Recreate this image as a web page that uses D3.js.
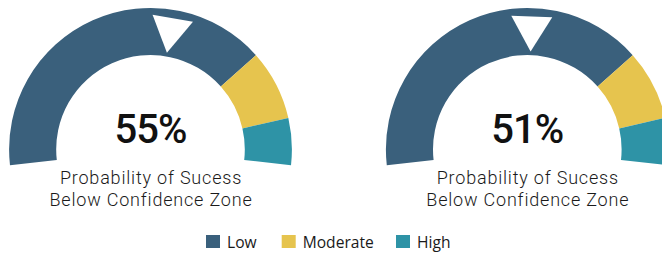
<!DOCTYPE html>
<html>
<head>
<meta charset="utf-8">
<script src="https://cdn.jsdelivr.net/npm/d3@7"></script>
<style>
  html, body { margin: 0; padding: 0; background: #fff; }
</style>
</head>
<body>
<div id="container"></div>
<script>
    // data
    const gaugeValues = [55, 51];
    const zoneNames = ["Low", "Moderate", "High"];
    const zoneBreaks = [0, 75, 90, 100];
    const zoneColors = ["#3a607c", "#e6c44e", "#2e93a6"];
    const captionLines = ["Probability of Sucess", "Below Confidence Zone"];

    const width = 662;
    const height = 253;

    const outerR = 141.4;
    const innerR = 94.3;
    const sweep = 96.4 * Math.PI / 180;
    const centerY = 149.4;

    const svg = d3.create("svg")
        .attr("width", width)
        .attr("height", height);

    // position of each gauge
    const xPos = d3.scalePoint()
        .domain(d3.range(gaugeValues.length))
        .range([150.5, 527.3]);

    // value -> angle
    const angle = d3.scaleLinear()
        .domain([0, 100])
        .range([-sweep, sweep]);

    const arc = d3.arc()
        .innerRadius(innerR)
        .outerRadius(outerR);

    const zones = zoneNames.map((name, i) => ({
        name: name,
        start: zoneBreaks[i],
        end: zoneBreaks[i + 1],
        color: zoneColors[i]
    }));

    const gauges = svg.selectAll("g.gauge")
        .data(gaugeValues)
        .join("g")
        .attr("class", "gauge")
        .attr("transform", (d, i) => `translate(${xPos(i)},${centerY})`);

    // coloured zones
    gauges.selectAll("path.zone")
        .data(zones)
        .join("path")
        .attr("class", "zone")
        .attr("fill", d => d.color)
        .attr("d", d => arc({ startAngle: angle(d.start), endAngle: angle(d.end) }));

    // pointer triangle
    const baseR = 133;
    const tipR = 98;
    const halfBase = 20.5;
    gauges.append("path")
        .attr("fill", "#fff")
        .attr("transform", d => `rotate(${angle(d) * 180 / Math.PI})`)
        .attr("d", `M${-halfBase},${-baseR}L${halfBase},${-baseR}L0,${-tipR}Z`);

    // big value
    gauges.append("text")
        .attr("text-anchor", "middle")
        .attr("y", -6)
        .attr("font-family", "Roboto, sans-serif")
        .attr("font-weight", 500)
        .attr("font-size", 40)
        .attr("letter-spacing", -1)
        .attr("fill", "#111")
        .text(d => d + "%");

    // caption
    gauges.selectAll("text.caption")
        .data(captionLines)
        .join("text")
        .attr("class", "caption")
        .attr("text-anchor", "middle")
        .attr("x", 0.5)
        .attr("y", (d, i) => 34.8 + i * 22)
        .attr("font-family", "Roboto, sans-serif")
        .attr("font-weight", 300)
        .attr("font-size", 18)
        .attr("letter-spacing", 0.8)
        .attr("fill", "#1a1a1a")
        .text(d => d);

    // legend
    const legendX = [206, 281.7, 396];
    const legend = svg.append("g")
        .selectAll("g")
        .data(zones)
        .join("g")
        .attr("transform", (d, i) => `translate(${legendX[i]},235)`);

    legend.append("rect")
        .attr("width", 14)
        .attr("height", 13)
        .attr("fill", d => d.color);

    legend.append("text")
        .attr("x", 21)
        .attr("y", 12.7)
        .attr("font-family", "'Open Sans', sans-serif")
        .attr("font-size", 15.6)
        .attr("fill", "#1a1a1a")
        .text(d => d.name);

    container.append(svg.node());
</script>
</body>
</html>
